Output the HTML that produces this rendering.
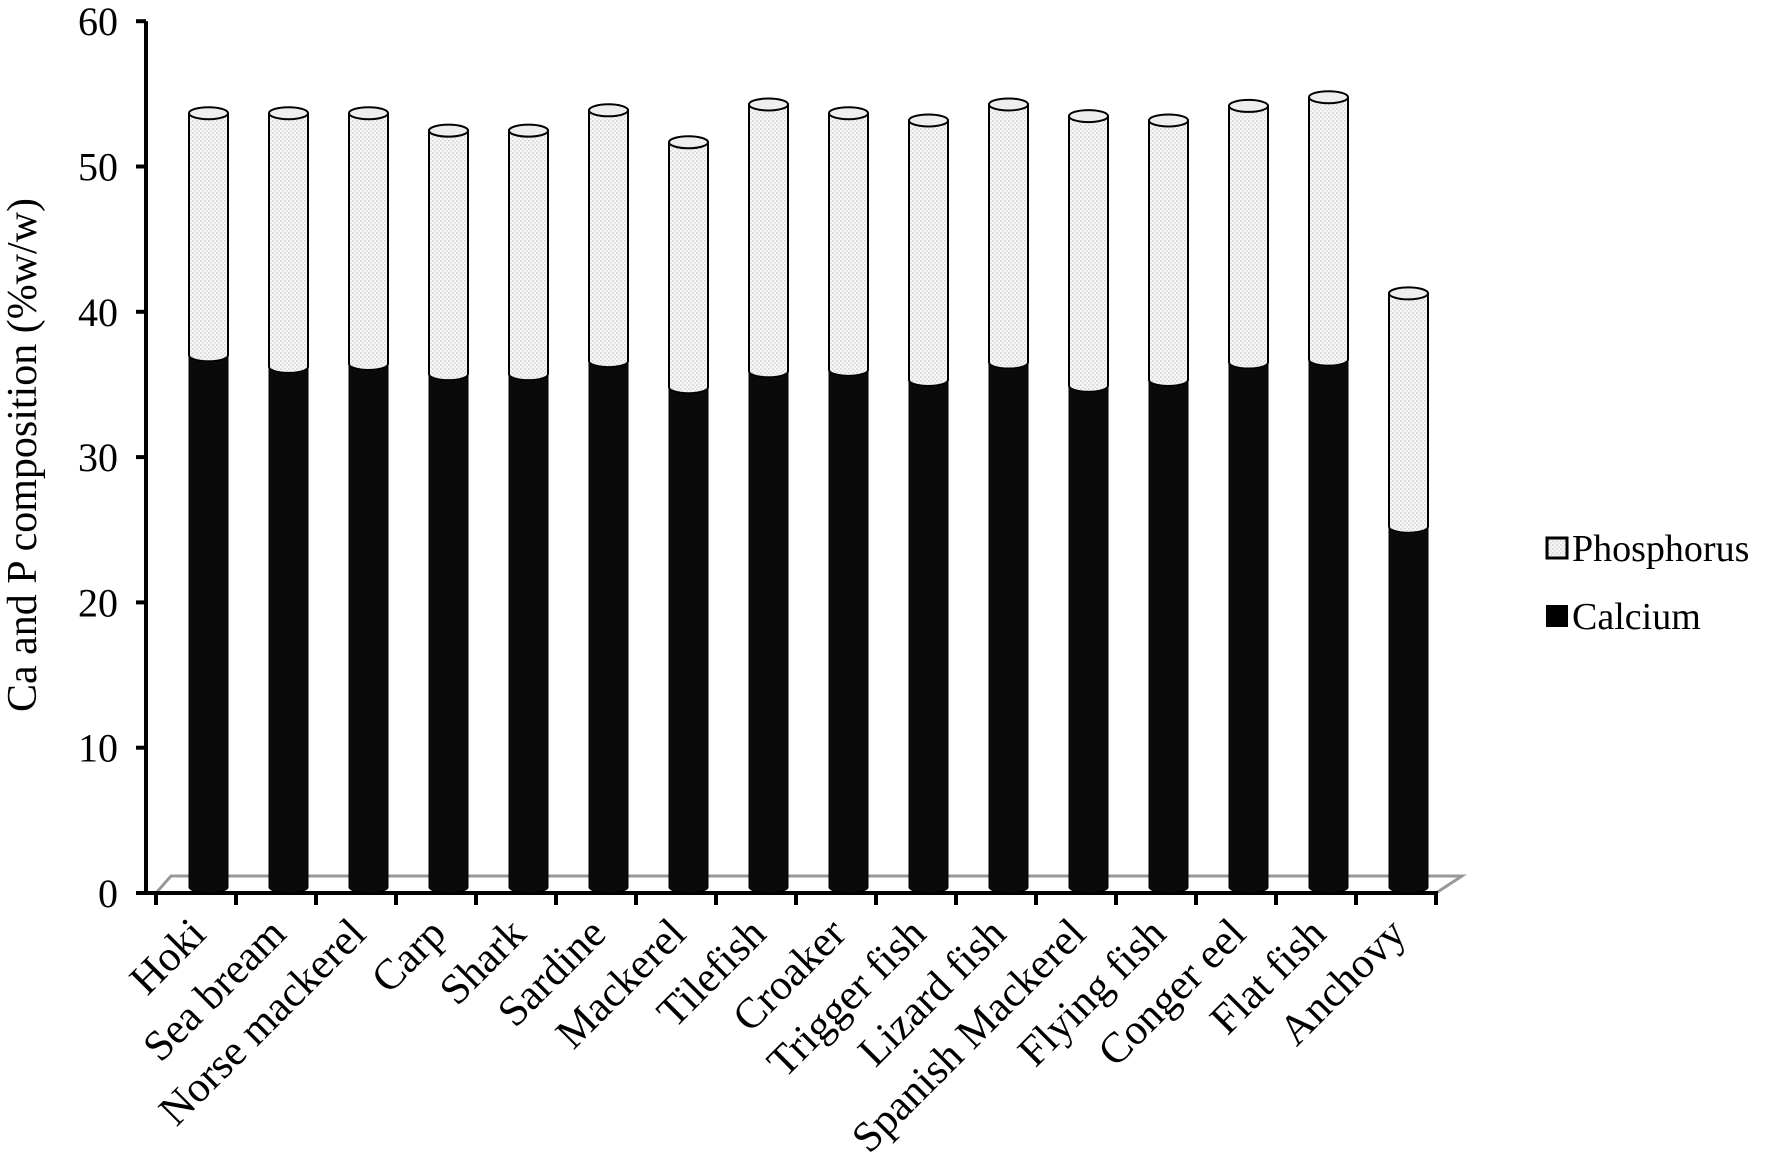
<!DOCTYPE html>
<html><head><meta charset="utf-8"><style>
body{margin:0;background:#fff}
svg{display:block;font-family:"Liberation Serif",serif}
</style></head><body>
<svg id="chart" width="1783" height="1161" viewBox="0 0 1783 1161" xmlns="http://www.w3.org/2000/svg">
<defs>
<pattern id="dots" width="4" height="4" patternUnits="userSpaceOnUse">
<rect width="4" height="4" fill="#f7f7f7"/><circle cx="1" cy="1" r="0.7" fill="#bbb"/><circle cx="3" cy="3" r="0.7" fill="#ccc"/>
</pattern>
</defs>
<g id="plot"></g>
</svg>
<script>
const categories = ["Hoki","Sea bream","Norse mackerel","Carp","Shark","Sardine","Mackerel","Tilefish","Croaker","Trigger fish","Lizard fish","Spanish Mackerel","Flying fish","Conger eel","Flat fish","Anchovy"];
const calcium = [36.8,36.0,36.2,35.5,35.5,36.4,34.6,35.7,35.8,35.1,36.3,34.7,35.1,36.3,36.5,25.0];
const phosphorus = [16.8,17.6,17.4,16.9,16.9,17.4,17.0,18.5,17.8,18.0,17.9,18.7,18.0,17.8,18.2,16.2];
const yTicks = [0,10,20,30,40,50,60];

const NS="http://www.w3.org/2000/svg";
const g=document.getElementById('plot');
const X0=156, STEP=80, Y0=893, PX=14.53;
const y=v=>Y0-v*PX;
const xc=i=>X0+STEP*i+STEP/2;
function mk(t,a,p){const e=document.createElementNS(NS,t);for(const k in a)e.setAttribute(k,a[k]);(p||g).appendChild(e);return e;}

const floor=mk('polygon',{points:`156,893 171,876 1462,876 1436,893`,fill:'none',stroke:'#999','stroke-width':3});



const ya=mk('line',{x1:146,y1:y(60),x2:146,y2:Y0+2,stroke:'#000','stroke-width':4});


const xa=mk('line',{x1:144,y1:Y0,x2:1438,y2:Y0,stroke:'#000','stroke-width':4});



yTicks.forEach(v=>{
  const t=mk('line',{x1:136,y1:y(v),x2:146,y2:y(v),stroke:'#000','stroke-width':4});
  
  
  const l=mk('text',{x:118,y:y(v)+14,'text-anchor':'end','font-size':40});
  l.textContent=v;
  
  
});
for(let i=0;i<=categories.length;i++){
  const t=mk('line',{x1:X0+STEP*i,y1:Y0,x2:X0+STEP*i,y2:Y0+12,stroke:'#000','stroke-width':4});
  
  
}

const BW=39, RY=6;
categories.forEach((c,i)=>{
  const left=xc(i)-7, cx=left+BW/2, base=887;
  const ca=y(calcium[i])-3, top=y(calcium[i]+phosphorus[i])-1;
  const grp=mk('g',{});
  
  
  const p=mk('path',{d:`M${left},${top} L${left},${ca} A${BW/2},${RY} 0 0 0 ${left+BW},${ca} L${left+BW},${top} Z`,fill:'url(#dots)',stroke:'#000','stroke-width':2},grp);
  
  
  const cap=mk('ellipse',{cx:cx,cy:top,rx:BW/2,ry:RY,fill:'#eee',stroke:'#000','stroke-width':2},grp);
  
  
  const k=mk('path',{d:`M${left},${ca} A${BW/2},${RY} 0 0 0 ${left+BW},${ca} L${left+BW},${base} A${BW/2},${RY} 0 0 1 ${left},${base} Z`,fill:'#0a0a0a',stroke:'#000','stroke-width':1},grp);
  
  
  const ex=xc(i)+12, ey=936;
  const l=mk('text',{x:ex,y:ey,'text-anchor':'end','font-size':43,transform:`rotate(-45 ${ex} ${ey})`});
  l.textContent=c;
  
  
});

const yt=mk('text',{x:36,y:455,'text-anchor':'middle','font-size':42,transform:'rotate(-90 36 455)'});
yt.textContent='Ca and P composition (%w/w)';



const lg=mk('g',{});


const s1=mk('rect',{x:1547,y:538,width:20,height:20,fill:'url(#dots)',stroke:'#000','stroke-width':3},lg);


const t1=mk('text',{x:1572,y:561,'font-size':38},lg);
t1.textContent='Phosphorus';


const s2=mk('rect',{x:1546,y:605,width:22,height:22,fill:'#000'},lg);


const t2=mk('text',{x:1572,y:629,'font-size':38},lg);
t2.textContent='Calcium';


</script>
</body></html>
